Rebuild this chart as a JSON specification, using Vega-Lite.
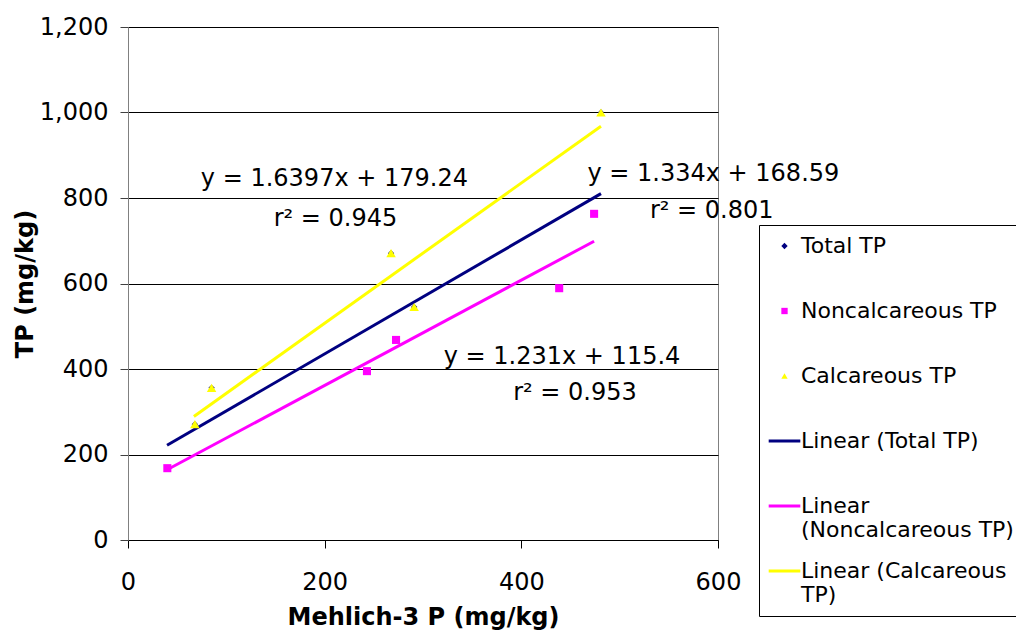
{
  "$schema": "https://vega.github.io/schema/vega-lite/v6.json",
  "autosize": {"type": "none"},
  "padding": {"left": 128, "top": 27, "right": 298, "bottom": 93},
  "width": 590,
  "height": 513,
  "background": "white",
  "config": {
    "font": "DejaVu Sans",
    "view": {"stroke": "#808080", "strokeWidth": 1},
    "legend": {
      "title": null,
      "orient": "none", "legendX": 631, "legendY": 198,
      "strokeColor": "black", "fillColor": "white",
      "padding": 10,
      "symbolSize": 40,
      "symbolStrokeWidth": 1.5,
      "symbolOffset": 4.5,
      "labelFont": "DejaVu Sans", "labelFontSize": 22, "labelColor": "black",
      "labelOffset": 5.5, "labelLimit": 500,
      "rowPadding": 19,
      "gridAlign": "all"
    }
  },
  "datasets": {
    "pts": [
      {"series": "Total TP", "x": 40, "y": 168},
      {"series": "Total TP", "x": 243, "y": 395},
      {"series": "Total TP", "x": 272.6, "y": 468},
      {"series": "Total TP", "x": 438.5, "y": 589},
      {"series": "Total TP", "x": 474, "y": 763},
      {"series": "Total TP", "x": 68, "y": 271},
      {"series": "Total TP", "x": 85, "y": 356},
      {"series": "Total TP", "x": 267.5, "y": 671},
      {"series": "Total TP", "x": 291, "y": 545},
      {"series": "Total TP", "x": 481, "y": 1000},
      {"series": "Noncalcareous TP", "x": 40, "y": 168},
      {"series": "Noncalcareous TP", "x": 243, "y": 395},
      {"series": "Noncalcareous TP", "x": 272.6, "y": 468},
      {"series": "Noncalcareous TP", "x": 438.5, "y": 589},
      {"series": "Noncalcareous TP", "x": 474, "y": 763},
      {"series": "Calcareous TP", "x": 68, "y": 271},
      {"series": "Calcareous TP", "x": 85, "y": 356},
      {"series": "Calcareous TP", "x": 267.5, "y": 671},
      {"series": "Calcareous TP", "x": 291, "y": 545},
      {"series": "Calcareous TP", "x": 481, "y": 1000}
    ],
    "lines": [
      {"series": "Linear (Total TP)", "x": 39.7, "y": 221.5},
      {"series": "Linear (Total TP)", "x": 481, "y": 810.2},
      {"series": "Linear (Noncalcareous TP)", "x": 39.7, "y": 164.3},
      {"series": "Linear (Noncalcareous TP)", "x": 474, "y": 698.9},
      {"series": "Linear (Calcareous TP)", "x": 67, "y": 289.1},
      {"series": "Linear (Calcareous TP)", "x": 481, "y": 967.9}
    ],
    "notes": [
      {"label": "y = 1.6397x + 179.24", "x": 209.9, "y": 844},
      {"label": "r² = 0.945", "x": 211, "y": 751},
      {"label": "y = 1.334x + 168.59", "x": 595.3, "y": 856},
      {"label": "r² = 0.801", "x": 593.6, "y": 770},
      {"label": "y = 1.231x + 115.4", "x": 441.4, "y": 428},
      {"label": "r² = 0.953", "x": 454.6, "y": 345}
    ]
  },
  "encoding": {
    "x": {
      "field": "x", "type": "quantitative",
      "scale": {"domain": [0, 600], "nice": false, "zero": false},
      "axis": {
        "title": "Mehlich-3 P (mg/kg)",
        "values": [0, 200, 400, 600],
        "format": ",.0f",
        "grid": false,
        "labelFlush": false,
        "labelFont": "DejaVu Sans", "labelFontSize": 24, "labelColor": "black",
        "labelPadding": 22,
        "tickSize": 8, "tickColor": "black", "domainColor": "black",
        "titleFont": "DejaVu Sans", "titleFontSize": 24, "titleFontWeight": "bold", "titleColor": "black",
        "titleX": 295, "titleY": 84, "titleBaseline": "alphabetic", "titleAlign": "center"
      }
    },
    "y": {
      "field": "y", "type": "quantitative",
      "scale": {"domain": [0, 1200], "nice": false, "zero": false},
      "axis": {
        "title": "TP (mg/kg)",
        "values": [0, 200, 400, 600, 800, 1000, 1200],
        "format": ",.0f",
        "grid": true, "gridColor": "black", "gridWidth": 1, "gridOpacity": 1,
        "labelFont": "DejaVu Sans", "labelFontSize": 24, "labelColor": "black",
        "labelPadding": 12,
        "tickSize": 8, "tickColor": "#404040", "domainColor": "#808080",
        "titleFont": "DejaVu Sans", "titleFontSize": 24, "titleFontWeight": "bold", "titleColor": "black",
        "titleX": -96, "titleY": 256.5, "titleAngle": -90, "titleBaseline": "alphabetic", "titleAlign": "center"
      }
    }
  },
  "layer": [
    {
      "data": {"name": "lines"},
      "mark": {"type": "line", "strokeWidth": 3},
      "encoding": {
        "detail": {"field": "series"},
        "stroke": {
          "field": "series", "type": "nominal", "legend": null,
          "scale": {
            "domain": ["Linear (Total TP)", "Linear (Noncalcareous TP)", "Linear (Calcareous TP)"],
            "range": ["#000080", "#FF00FF", "#FFFF00"]
          }
        }
      }
    },
    {
      "data": {"name": "pts"},
      "mark": {"type": "point", "filled": true, "opacity": 1},
      "encoding": {
        "size": {
          "field": "series", "type": "nominal", "legend": null,
          "scale": {
            "domain": ["Total TP", "Noncalcareous TP", "Calcareous TP"],
            "range": [40, 90]
          }
        },
        "color": {
          "field": "series", "type": "nominal",
          "scale": {
            "domain": ["Total TP", "Noncalcareous TP", "Calcareous TP", "Linear (Total TP)", "Linear (Noncalcareous TP)", "Linear (Calcareous TP)"],
            "range": ["#000080", "#FF00FF", "#FFFF00", "#000080", "#FF00FF", "#FFFF00"]
          },
          "legend": {
            "labelExpr": "datum.value == 'Linear (Noncalcareous TP)' ? ['Linear', '(Noncalcareous TP)'] : datum.value == 'Linear (Calcareous TP)' ? ['Linear (Calcareous', 'TP)'] : datum.value",
            "encode": {
              "labels": {"lineHeight": {"value": 26}}
            }
          }
        },
        "shape": {
          "field": "series", "type": "nominal",
          "scale": {
            "domain": ["Total TP", "Noncalcareous TP", "Calcareous TP", "Linear (Total TP)", "Linear (Noncalcareous TP)", "Linear (Calcareous TP)"],
            "range": ["diamond", "square", "triangle-up", "M-5,-0.5H5V0.5H-5Z", "M-5,-0.5H5V0.5H-5Z", "M-5,-0.5H5V0.5H-5Z"]
          },
          "legend": {
            "labelExpr": "datum.value == 'Linear (Noncalcareous TP)' ? ['Linear', '(Noncalcareous TP)'] : datum.value == 'Linear (Calcareous TP)' ? ['Linear (Calcareous', 'TP)'] : datum.value",
            "encode": {
              "labels": {"lineHeight": {"value": 26}}
            }
          }
        }
      }
    },
    {
      "data": {"name": "notes"},
      "mark": {"type": "text", "font": "DejaVu Sans", "fontSize": 24, "color": "black", "align": "center", "baseline": "middle"},
      "encoding": {
        "text": {"field": "label"}
      }
    }
  ]
}
